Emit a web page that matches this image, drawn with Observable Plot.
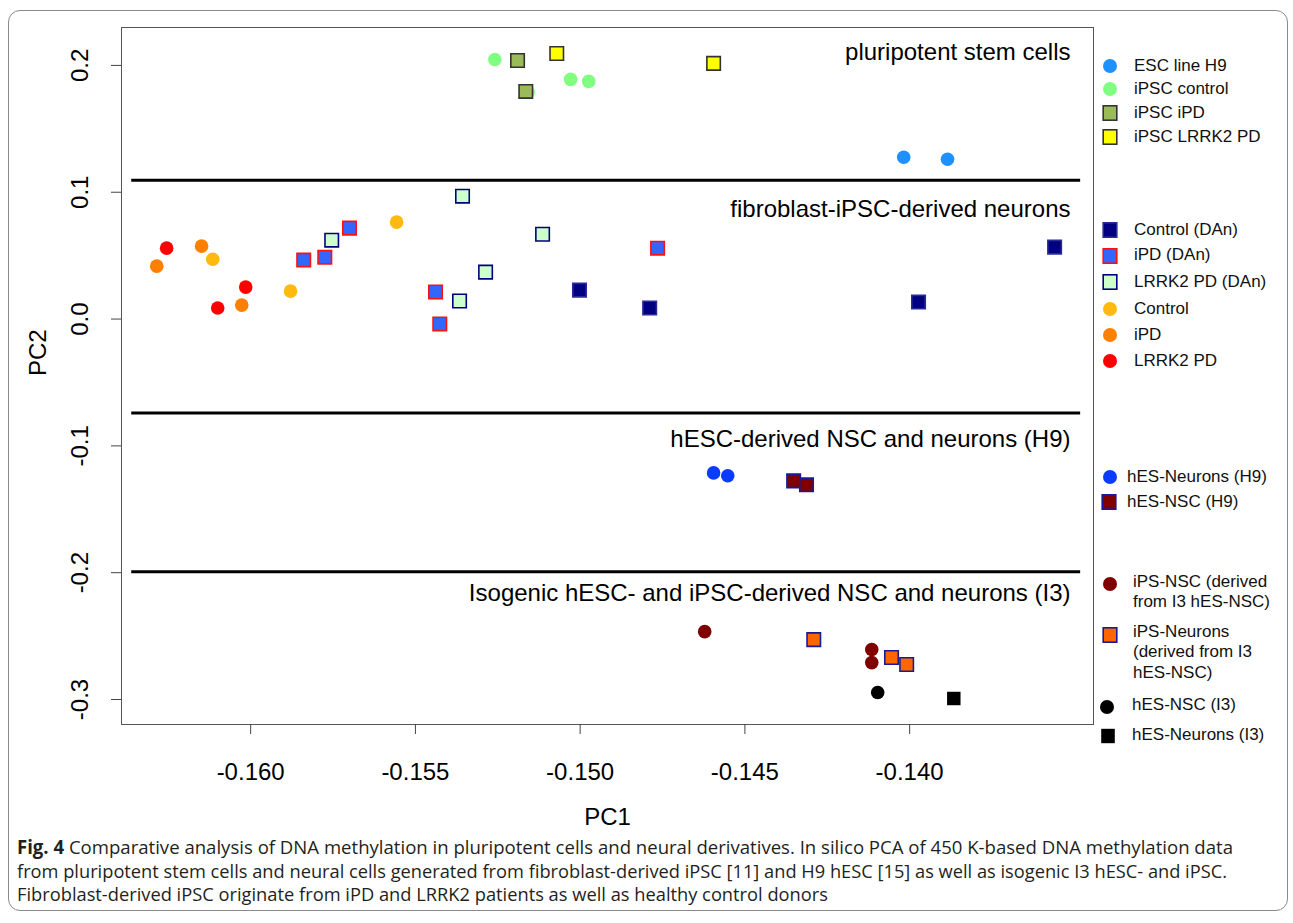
<!DOCTYPE html>
<html>
<head>
<meta charset="utf-8">
<script src="https://cdn.jsdelivr.net/npm/d3@7"></script>
<script src="https://cdn.jsdelivr.net/npm/@observablehq/plot@0.6"></script>
<style>
  html, body { margin: 0; padding: 0; background: #fff; }
  #wrap { position: relative; width: 1293px; height: 923px; overflow: hidden; }
  #border { position: absolute; left: 8px; top: 10px; width: 1280px; height: 901px;
            border: 1.5px solid #8a8a8a; border-radius: 12px; box-sizing: border-box; }
  #chart { position: absolute; left: 0; top: 0; }
  #legend { position: absolute; left: 0; top: 0; width: 1293px; height: 800px;
            font-family: "Liberation Sans", Arial, sans-serif; font-size: 17px; color: #111; }
  .lg-mark { position: absolute; }
  .lg-text { position: absolute; line-height: 20.5px; white-space: pre; }
  #caption { position: absolute; left: 0; top: 800px; }
</style>
</head>
<body>
<div id="wrap">
  <div id="border"></div>
  <div id="chart"></div>
  <div id="legend"></div>
  <svg id="caption" width="1293" height="123"></svg>
</div>
<script>
// ---------------- data (PC1, PC2) ----------------
const escH9       = [[-0.14018, 0.1276], [-0.13885, 0.1260]];
const ipscControl = [[-0.15259, 0.2047], [-0.15029, 0.1890], [-0.14974, 0.1874], [-0.15158, 0.1788]];
const ipscIPD     = [[-0.15190, 0.2039], [-0.15165, 0.1795]];
const ipscLRRK2   = [[-0.15071, 0.2094], [-0.14595, 0.2016]];
const dAnControl  = [[-0.15002, 0.0228], [-0.14789, 0.0087], [-0.13973, 0.0134], [-0.13560, 0.0567]];
const dAnIPD      = [[-0.15839, 0.0465], [-0.15775, 0.0488], [-0.15700, 0.0717], [-0.15439, 0.0213], [-0.15426, -0.0039], [-0.14765, 0.0559]];
const dAnLRRK2    = [[-0.15754, 0.0622], [-0.15357, 0.0969], [-0.15114, 0.0669], [-0.15287, 0.0370], [-0.15366, 0.0142]];
const fibControl  = [[-0.16115, 0.0472], [-0.15879, 0.0220], [-0.15557, 0.0764]];
const fibIPD      = [[-0.16285, 0.0417], [-0.16149, 0.0575], [-0.16027, 0.0110]];
const fibLRRK2    = [[-0.16255, 0.0559], [-0.16015, 0.0252], [-0.16100, 0.0087]];
const h9Neurons   = [[-0.14595, -0.1213], [-0.14552, -0.1236]];
const h9NSC       = [[-0.14352, -0.1276], [-0.14313, -0.1307]];
const ipsNSC      = [[-0.14622, -0.2465], [-0.14115, -0.2606], [-0.14115, -0.2709]];
const ipsNeurons  = [[-0.14291, -0.2528], [-0.14055, -0.2669], [-0.14009, -0.2724]];
const i3NSC       = [[-0.14097, -0.2945]];
const i3Neurons   = [[-0.13866, -0.2992]];

const seriesNames = ["ESC line H9", "iPSC control", "iPSC iPD", "iPSC LRRK2 PD",
  "Control (DAn)", "iPD (DAn)", "LRRK2 PD (DAn)", "Control", "iPD", "LRRK2 PD",
  "hES-Neurons (H9)", "hES-NSC (H9)", "iPS-NSC", "iPS-Neurons", "hES-NSC (I3)", "hES-Neurons (I3)"];
const seriesData = [escH9, ipscControl, ipscIPD, ipscLRRK2, dAnControl, dAnIPD, dAnLRRK2,
  fibControl, fibIPD, fibLRRK2, h9Neurons, h9NSC, ipsNSC, ipsNeurons, i3NSC, i3Neurons];
const legendLabels = ["ESC line H9", "iPSC control", "iPSC iPD", "iPSC LRRK2 PD",
  "Control (DAn)", "iPD (DAn)", "LRRK2 PD (DAn)", "Control", "iPD", "LRRK2 PD",
  "hES-Neurons (H9)", "hES-NSC (H9)", "iPS-NSC (derived\nfrom I3 hES-NSC)",
  "iPS-Neurons\n(derived from I3\nhES-NSC)", "hES-NSC (I3)", "hES-Neurons (I3)"];

const regionLabels = ["pluripotent stem cells", "fibroblast-iPSC-derived neurons",
  "hESC-derived NSC and neurons (H9)", "Isogenic hESC- and iPSC-derived NSC and neurons (I3)"];
const regionLabelY = [0.2102, 0.0866, -0.0945, -0.2165];
const separatorY = [0.1094, -0.0740, -0.1992];
const separatorX = [-0.16361, -0.13481];

const xTicks = [-0.160, -0.155, -0.150, -0.145, -0.140];
const xTickLabels = ["-0.160", "-0.155", "-0.150", "-0.145", "-0.140"];
const yTicks = [0.2, 0.1, 0.0, -0.1, -0.2, -0.3];
const yTickLabels = ["0.2", "0.1", "0.0", "-0.1", "-0.2", "-0.3"];

// ---------------- styles ----------------
const styles = {
  "ESC line H9":      {symbol: "circle", fill: "#1E90FF", stroke: "none"},
  "iPSC control":     {symbol: "circle", fill: "#80FF80", stroke: "none"},
  "iPSC iPD":         {symbol: "square", fill: "#9BBB59", stroke: "#333333"},
  "iPSC LRRK2 PD":    {symbol: "square", fill: "#FFFF00", stroke: "#333333"},
  "Control (DAn)":    {symbol: "square", fill: "#000080", stroke: "#2a2a99"},
  "iPD (DAn)":        {symbol: "square", fill: "#3366FF", stroke: "#FF1010"},
  "LRRK2 PD (DAn)":   {symbol: "square", fill: "#CCFFCC", stroke: "#000080"},
  "Control":          {symbol: "circle", fill: "#FFB90F", stroke: "none"},
  "iPD":              {symbol: "circle", fill: "#FF7F00", stroke: "none"},
  "LRRK2 PD":         {symbol: "circle", fill: "#FF0000", stroke: "none"},
  "hES-Neurons (H9)": {symbol: "circle", fill: "#0A3CFF", stroke: "none"},
  "hES-NSC (H9)":     {symbol: "square", fill: "#800000", stroke: "#1a1a99"},
  "iPS-NSC":          {symbol: "circle", fill: "#800000", stroke: "none"},
  "iPS-Neurons":      {symbol: "square", fill: "#FF6600", stroke: "#1a1a99"},
  "hES-NSC (I3)":     {symbol: "circle", fill: "#000000", stroke: "none"},
  "hES-Neurons (I3)": {symbol: "square", fill: "#000000", stroke: "none"}
};

// ---------------- table ----------------
const table = [];
seriesNames.forEach((name, i) => {
  seriesData[i].forEach(([pc1, pc2]) => table.push({series: name, pc1, pc2}));
});

const circleNames = seriesNames.filter(n => styles[n].symbol === "circle");
const squareNames = seriesNames.filter(n => styles[n].symbol === "square");

const dotMarks = [];
for (const n of circleNames) {
  const s = styles[n];
  dotMarks.push(Plot.dot(table.filter(d => d.series === n),
    {x: "pc1", y: "pc2", r: 6.8, fill: s.fill, stroke: "none"}));
}
for (const n of squareNames) {
  const s = styles[n];
  dotMarks.push(Plot.dot(table.filter(d => d.series === n),
    {x: "pc1", y: "pc2", symbol: "square", r: 7.6, fill: s.fill,
     stroke: s.stroke, strokeWidth: s.stroke === "none" ? 0 : 1.6}));
}

const chart = Plot.plot({
  width: 1293,
  height: 800,
  marginLeft: 121,
  marginTop: 27,
  marginRight: 200,
  marginBottom: 76,
  x: {domain: [-0.16392, -0.13442]},
  y: {domain: [-0.3197, 0.2299]},
  style: {fontFamily: "'Liberation Sans', Arial, sans-serif", fontSize: "24px", color: "#000", background: "transparent", overflow: "visible"},
  marks: [
    Plot.frame({stroke: "#555"}),
    Plot.ruleY(separatorY, {x1: () => separatorX[0], x2: () => separatorX[1], stroke: "#000", strokeWidth: 3}),
    Plot.axisX({ticks: xTicks, tickSize: 10, tickPadding: 28, stroke: "#444",
      tickFormat: d => xTickLabels[xTicks.indexOf(d)], label: null, fontSize: 24}),
    Plot.axisY({ticks: yTicks, tickSize: 10, stroke: "#444", tickFormat: () => "", label: null}),
    Plot.text(yTicks, {frameAnchor: "left", y: d => d, text: (d, i) => yTickLabels[i],
      rotate: -90, dx: -41, textAnchor: "middle", lineAnchor: "middle", fontSize: 24, fill: "#000"}),
    Plot.text(["PC1"], {frameAnchor: "bottom", dy: 93, lineAnchor: "middle", fontSize: 24, fill: "#000"}),
    Plot.text(["PC2"], {frameAnchor: "left", dx: -83, rotate: -90, lineAnchor: "middle", fontSize: 24, fill: "#000"}),
    Plot.text(regionLabels, {frameAnchor: "right", y: (d, i) => regionLabelY[i], text: d => d,
      dx: -23, textAnchor: "end", lineAnchor: "middle", fontSize: 24, fill: "#000"}),
    ...dotMarks
  ]
});
document.getElementById("chart").appendChild(chart);

// ---------------- legend (HTML, outside the plot frame) ----------------
const legendLayout = [
  {mx: 1110, my: 66,  tx: 1134, ty: 66},
  {mx: 1110, my: 89,  tx: 1134, ty: 89},
  {mx: 1110, my: 113, tx: 1134, ty: 113},
  {mx: 1110, my: 137, tx: 1134, ty: 137},
  {mx: 1110, my: 230, tx: 1134, ty: 230},
  {mx: 1110, my: 256, tx: 1134, ty: 255},
  {mx: 1110, my: 282, tx: 1134, ty: 282},
  {mx: 1110, my: 309, tx: 1134, ty: 309},
  {mx: 1110, my: 335, tx: 1134, ty: 335},
  {mx: 1110, my: 361, tx: 1134, ty: 361},
  {mx: 1110, my: 477, tx: 1127, ty: 477},
  {mx: 1109, my: 502, tx: 1127, ty: 502},
  {mx: 1110, my: 584, tx: 1133, ty: 582},
  {mx: 1110, my: 635, tx: 1133, ty: 632},
  {mx: 1107, my: 707, tx: 1132, ty: 705},
  {mx: 1108, my: 736, tx: 1132, ty: 735}
];
const legendDiv = document.getElementById("legend");
seriesNames.forEach((name, i) => {
  const s = styles[name], L = legendLayout[i];
  const svgNS = "http://www.w3.org/2000/svg";
  const m = document.createElementNS(svgNS, "svg");
  m.setAttribute("width", 18); m.setAttribute("height", 18);
  m.setAttribute("class", "lg-mark");
  m.style.left = (L.mx - 9) + "px"; m.style.top = (L.my - 9) + "px";
  let shape;
  if (s.symbol === "circle") {
    shape = document.createElementNS(svgNS, "circle");
    shape.setAttribute("cx", 9); shape.setAttribute("cy", 9); shape.setAttribute("r", 7);
  } else {
    shape = document.createElementNS(svgNS, "rect");
    shape.setAttribute("x", 2.2); shape.setAttribute("y", 1.8);
    shape.setAttribute("width", 13.6); shape.setAttribute("height", 14.4);
  }
  shape.setAttribute("fill", s.fill);
  if (s.stroke !== "none") { shape.setAttribute("stroke", s.stroke); shape.setAttribute("stroke-width", 1.6); }
  m.appendChild(shape);
  legendDiv.appendChild(m);
  const t = document.createElement("div");
  t.className = "lg-text";
  t.textContent = legendLabels[i];
  t.style.left = L.tx + "px";
  t.style.top = (L.ty - 10.5) + "px";
  legendDiv.appendChild(t);
});

// ---------------- caption ----------------
const captionBold = "Fig. 4";
const captionLines = [
  " Comparative analysis of DNA methylation in pluripotent cells and neural derivatives. In silico PCA of 450 K-based DNA methylation data",
  "from pluripotent stem cells and neural cells generated from fibroblast-derived iPSC [11] and H9 hESC [15] as well as isogenic I3 hESC- and iPSC.",
  "Fibroblast-derived iPSC originate from iPD and LRRK2 patients as well as healthy control donors"
];
const captionWidths = [1216, 1210, 811];
const cap = d3.select("#caption");
captionLines.forEach((line, i) => {
  const t = cap.append("text")
    .attr("x", 17).attr("y", 54 + i * 23.5)
    .attr("textLength", captionWidths[i]).attr("lengthAdjust", "spacingAndGlyphs")
    .attr("font-family", "'Open Sans', 'Noto Sans', sans-serif")
    .attr("font-size", 19).attr("fill", "#231f20");
  if (i === 0) t.append("tspan").attr("font-weight", "bold").text(captionBold);
  t.append("tspan").text(line);
});
</script>
</body>
</html>
